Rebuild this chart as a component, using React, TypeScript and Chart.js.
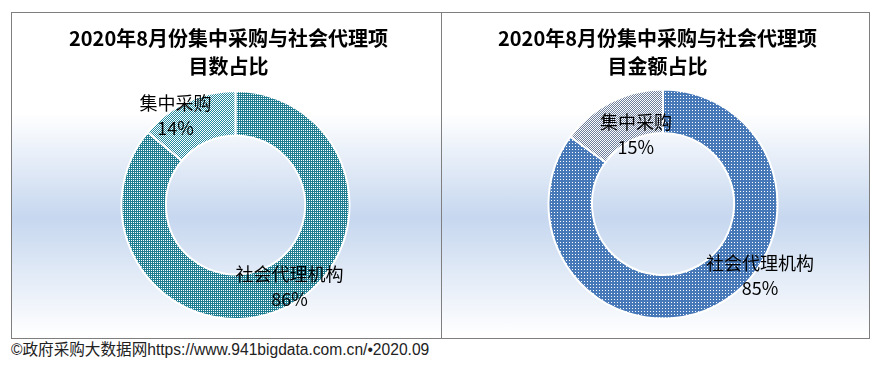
import React, { useEffect, useRef } from "react";
import { Chart, registerables } from "chart.js";

Chart.register(...registerables);

const categories = ["社会代理机构", "集中采购"];
const countShare = [86, 14];
const amountShare = [85, 15];
const titleCount = ["2020年8月份集中采购与社会代理项", "目数占比"];
const titleAmount = ["2020年8月份集中采购与社会代理项", "目金额占比"];
const footer = "©政府采购大数据网https://www.941bigdata.com.cn/•2020.09";

const FONT = '"Noto Sans CJK SC", "Noto Sans", sans-serif';

function makePattern(fg: string, bg: string, tile: number[][]) {
  const h = tile.length;
  const w = tile[0].length;
  const c = document.createElement("canvas");
  c.width = w;
  c.height = h;
  const ctx = c.getContext("2d")!;
  for (let y = 0; y < h; y++) {
    for (let x = 0; x < w; x++) {
      ctx.fillStyle = tile[y][x] ? fg : bg;
      ctx.fillRect(x, y, 1, 1);
    }
  }
  const p = ctx.createPattern(c, "repeat");
  return p as CanvasPattern;
}

type Cfg = {
  values: number[];
  title: string[];
  colors: () => CanvasPattern[];
  padding: { left: number; right: number; top: number; bottom: number };
  cutout: string;
  labelOffsets: [number, number][];
  width: number;
};

const overlayPlugin = {
  id: "overlay",
  afterDatasetsDraw(chart: any, _args: any, opts: any) {
    const ctx = chart.ctx as CanvasRenderingContext2D;
    ctx.save();
    ctx.fillStyle = "#000";
    ctx.textAlign = "center";
    ctx.textBaseline = "middle";
    // title
    ctx.font = `bold 20px ${FONT}`;
    const cx = chart.width / 2 + 2;
    (opts.title as string[]).forEach((t, i) => {
      ctx.fillText(t, cx, 25 + i * 28);
    });
    // labels
    const meta = chart.getDatasetMeta(0);
    const data = chart.data.datasets[0].data as number[];
    const total = data.reduce((a, b) => a + b, 0);
    ctx.font = `18px ${FONT}`;
    meta.data.forEach((arc: any, i: number) => {
      const pos = arc.tooltipPosition();
      const off = opts.offsets[i];
      const x = pos.x + off[0];
      const y = pos.y + off[1];
      const pct = Math.round((data[i] / total) * 100) + "%";
      ctx.fillText(chart.data.labels[i], x, y - 12);
      ctx.fillText(pct, x, y + 13);
    });
    ctx.restore();
  },
};

function Donut({ cfg }: { cfg: Cfg }) {
  const ref = useRef<HTMLCanvasElement>(null);
  useEffect(() => {
    const chart = new Chart(ref.current!, {
      type: "doughnut",
      data: {
        labels: categories,
        datasets: [
          {
            data: cfg.values,
            backgroundColor: cfg.colors(),
            borderColor: "#ffffff",
            borderWidth: 2,
          },
        ],
      },
      options: {
        animation: false,
        responsive: false,
        maintainAspectRatio: false,
        cutout: cfg.cutout,
        layout: { padding: cfg.padding },
        plugins: {
          legend: { display: false },
          tooltip: { enabled: false },
          title: { display: false },
          overlay: { title: cfg.title, offsets: cfg.labelOffsets },
        } as any,
      },
      plugins: [overlayPlugin],
    });
    return () => chart.destroy();
  }, []);
  return <canvas ref={ref} width={cfg.width} height={325} style={{ display: "block" }} />;
}

const boxBg =
  "linear-gradient(to bottom, #ffffff 0px, #ffffff 100px, #c6d7ef 205px, #ffffff 322px)";

export default function App() {
  const cfg1: Cfg = {
    values: countShare,
    title: titleCount,
    colors: () => [
      makePattern("#1f7d92", "#ffffff", [
        [1, 1],
        [1, 0],
      ]),
      makePattern("#1f8aa0", "#ffffff", [
        [1, 0],
        [0, 1],
      ]),
    ],
    padding: { left: 108.5, right: 90.5, top: 77, bottom: 18 },
    cutout: "61%",
    labelOffsets: [
      [15, -2],
      [-21, -7],
    ],
    width: 429,
  };
  const cfg2: Cfg = {
    values: amountShare,
    title: titleAmount,
    colors: () => [
      makePattern("#4778b8", "#ffffff", [
        [1, 1, 1],
        [1, 0, 1],
        [1, 1, 1],
      ]),
      makePattern("#6d7f9c", "#ffffff", [
        [1, 0],
        [0, 1],
      ]),
    ],
    padding: { left: 105.5, right: 90.5, top: 75.5, bottom: 18.5 },
    cutout: "62%",
    labelOffsets: [
      [55, -11],
      [15, 13],
    ],
    width: 427,
  };
  const box: React.CSSProperties = {
    position: "absolute",
    top: 12,
    height: 327,
    boxSizing: "border-box",
    border: "1px solid #7f7f7f",
    background: boxBg,
  };
  return (
    <div style={{ position: "absolute", left: 0, top: 0, width: 881, height: 365 }}>
      <div style={{ ...box, left: 11, width: 431 }}>
        <Donut cfg={cfg1} />
      </div>
      <div style={{ ...box, left: 441, width: 429 }}>
        <Donut cfg={cfg2} />
      </div>
      <div
        style={{
          position: "absolute",
          left: 11,
          top: 340,
          fontFamily: '"Liberation Sans", "Noto Sans CJK SC", sans-serif',
          fontSize: 15.6,
          lineHeight: "20px",
          color: "#222",
          whiteSpace: "nowrap",
        }}
      >
        {footer}
      </div>
    </div>
  );
}
